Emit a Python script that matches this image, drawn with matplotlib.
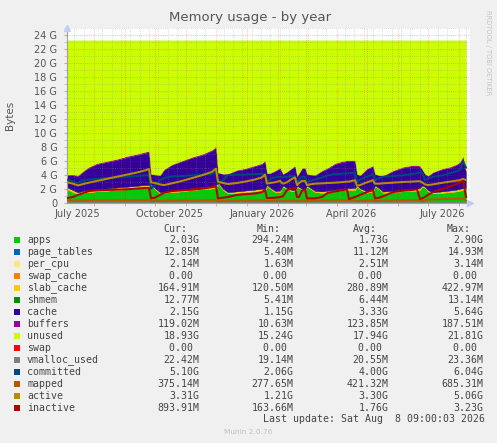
import numpy as np
import pandas as pd
import matplotlib
matplotlib.use("Agg")
import matplotlib.pyplot as plt
from matplotlib.patches import Rectangle

W, H = 497, 443

# time axis: day offsets from the left edge of the graph
start = pd.Timestamp("2025-07-05 12:00")
days = [0, 6, 11, 16, 22, 30, 40, 50, 60, 70, 78, 82,
        84, 88, 93, 97, 105, 115, 125, 135, 145, 149,
        151, 156, 161, 170, 178, 188, 195, 198,
        200, 203, 208, 213,
        216, 220, 225, 228,
        230, 232, 235, 238,
        240, 243, 248, 255, 261, 268, 273, 280, 282, 288,
        290, 293, 300, 306,
        308, 312, 316, 326, 336, 345, 350, 353,
        355, 358, 361, 366, 376, 383, 390, 393, 396, 399]

# values in G
mem_total = 23.3
apps = [2.0, 1.6, 1.3, 1.5, 1.6, 1.7, 1.8, 1.9, 2.0, 2.1, 2.2, 2.2,
        2.6, 2.0, 1.4, 1.5, 1.6, 1.7, 1.9, 2.0, 2.1, 2.2,
        2.9, 1.9, 1.4, 1.5, 1.6, 1.7, 1.8, 1.8,
        2.5, 2.1, 1.6, 1.6,
        2.4, 2.0, 1.7, 1.7,
        2.3, 2.2, 1.9, 1.8,
        2.4, 2.1, 1.6, 1.5, 1.6, 1.7, 1.8, 1.9, 1.9, 1.9,
        2.4, 2.0, 1.5, 1.7,
        2.4, 2.0, 1.5, 1.6, 1.7, 1.8, 1.8, 1.9,
        2.4, 2.2, 1.7, 1.4, 1.5, 1.6, 1.7, 1.8, 1.9, 2.03]
page_tables = [0.012, 0.012, 0.012, 0.012, 0.012, 0.013, 0.013, 0.013, 0.013, 0.014, 0.014, 0.014,
               0.006, 0.008, 0.010, 0.011, 0.012, 0.012, 0.013, 0.013, 0.014, 0.014,
               0.006, 0.008, 0.010, 0.011, 0.012, 0.012, 0.013, 0.013,
               0.006, 0.008, 0.010, 0.011,
               0.006, 0.008, 0.010, 0.011,
               0.006, 0.008, 0.010, 0.011,
               0.006, 0.008, 0.010, 0.011, 0.012, 0.012, 0.013, 0.013, 0.013, 0.013,
               0.006, 0.008, 0.010, 0.011,
               0.006, 0.008, 0.010, 0.011, 0.012, 0.012, 0.013, 0.013,
               0.006, 0.008, 0.010, 0.011, 0.012, 0.012, 0.013, 0.013, 0.014, 0.0125]
per_cpu = [0.0025, 0.0025, 0.0025, 0.0025, 0.0026, 0.0026, 0.0027, 0.0027, 0.0028, 0.0028, 0.0029, 0.003,
           0.0016, 0.002, 0.0022, 0.0023, 0.0024, 0.0025, 0.0026, 0.0027, 0.0028, 0.003,
           0.0016, 0.002, 0.0022, 0.0023, 0.0024, 0.0025, 0.0026, 0.0027,
           0.0016, 0.002, 0.0022, 0.0023,
           0.0016, 0.002, 0.0022, 0.0023,
           0.0016, 0.002, 0.0022, 0.0023,
           0.0016, 0.002, 0.0022, 0.0023, 0.0024, 0.0025, 0.0026, 0.0027, 0.0027, 0.0028,
           0.0016, 0.002, 0.0022, 0.0023,
           0.0016, 0.002, 0.0022, 0.0023, 0.0024, 0.0025, 0.0026, 0.0027,
           0.0016, 0.002, 0.0022, 0.0023, 0.0024, 0.0025, 0.0026, 0.0027, 0.003, 0.0021]
swap_cache = [0.0] * len(days)
slab_cache = [0.30, 0.27, 0.25, 0.27, 0.28, 0.30, 0.32, 0.34, 0.36, 0.38, 0.40, 0.41,
              0.15, 0.16, 0.17, 0.18, 0.20, 0.23, 0.27, 0.31, 0.36, 0.40,
              0.15, 0.16, 0.17, 0.19, 0.21, 0.24, 0.26, 0.27,
              0.15, 0.16, 0.18, 0.20,
              0.15, 0.16, 0.18, 0.19,
              0.15, 0.15, 0.16, 0.17,
              0.15, 0.15, 0.16, 0.18, 0.20, 0.22, 0.24, 0.26, 0.26, 0.28,
              0.15, 0.15, 0.17, 0.19,
              0.15, 0.15, 0.16, 0.19, 0.22, 0.26, 0.27, 0.28,
              0.15, 0.15, 0.16, 0.17, 0.20, 0.22, 0.25, 0.26, 0.27, 0.165]
shmem = [0.006, 0.006, 0.006, 0.006, 0.006, 0.006, 0.007, 0.007, 0.007, 0.008, 0.008, 0.008,
         0.013, 0.006, 0.006, 0.006, 0.006, 0.006, 0.007, 0.007, 0.007, 0.008,
         0.013, 0.006, 0.006, 0.006, 0.006, 0.006, 0.007, 0.007,
         0.012, 0.006, 0.006, 0.006,
         0.012, 0.006, 0.006, 0.006,
         0.012, 0.006, 0.006, 0.006,
         0.012, 0.006, 0.006, 0.006, 0.006, 0.006, 0.007, 0.007, 0.007, 0.007,
         0.012, 0.006, 0.006, 0.006,
         0.012, 0.006, 0.006, 0.006, 0.006, 0.006, 0.007, 0.007,
         0.012, 0.006, 0.006, 0.006, 0.006, 0.006, 0.007, 0.007, 0.008, 0.0125]
cache = [1.66, 2.09, 2.31, 2.69, 3.18, 3.56, 3.74, 3.92, 4.20, 4.38, 4.56, 4.65,
         1.41, 1.90, 2.39, 3.08, 3.66, 4.03, 4.29, 4.55, 5.00, 5.30,
         1.31, 2.10, 2.59, 2.97, 3.05, 3.32, 3.50, 3.89,
         1.61, 2.00, 2.78, 3.16,
         1.61, 2.30, 3.08, 3.37,
         1.41, 1.91, 2.90, 2.99,
         1.61, 1.81, 2.20, 2.88, 3.16, 3.64, 3.72, 3.80, 3.80, 3.78,
         1.61, 1.81, 3.19, 3.37,
         1.61, 1.81, 2.20, 2.77, 3.14, 3.20, 3.19, 2.98,
         2.31, 1.81, 2.00, 2.79, 3.16, 3.24, 3.51, 3.70, 4.39, 2.15]
buffers = [0.12, 0.13, 0.13, 0.14, 0.14, 0.15, 0.15, 0.16, 0.16, 0.17, 0.17, 0.18,
           0.02, 0.04, 0.06, 0.08, 0.10, 0.12, 0.14, 0.15, 0.17, 0.18,
           0.02, 0.05, 0.08, 0.10, 0.12, 0.14, 0.15, 0.16,
           0.02, 0.05, 0.09, 0.11,
           0.03, 0.07, 0.10, 0.12,
           0.02, 0.05, 0.09, 0.11,
           0.02, 0.05, 0.09, 0.12, 0.14, 0.15, 0.16, 0.17, 0.17, 0.18,
           0.02, 0.06, 0.11, 0.13,
           0.02, 0.05, 0.08, 0.12, 0.14, 0.16, 0.17, 0.17,
           0.02, 0.04, 0.07, 0.10, 0.13, 0.14, 0.15, 0.16, 0.17, 0.119]
swap = [0.0] * len(days)

vmalloc_used = [0.020, 0.020, 0.020, 0.020, 0.021, 0.021, 0.021, 0.021, 0.022, 0.022, 0.022, 0.023,
                0.019, 0.020, 0.020, 0.020, 0.021, 0.021, 0.021, 0.022, 0.022, 0.023,
                0.019, 0.020, 0.020, 0.020, 0.021, 0.021, 0.021, 0.022,
                0.019, 0.020, 0.020, 0.020,
                0.019, 0.020, 0.020, 0.020,
                0.019, 0.020, 0.020, 0.020,
                0.019, 0.020, 0.020, 0.020, 0.021, 0.021, 0.021, 0.022, 0.022, 0.022,
                0.019, 0.020, 0.020, 0.020,
                0.019, 0.020, 0.020, 0.020, 0.021, 0.021, 0.021, 0.022,
                0.019, 0.020, 0.020, 0.020, 0.021, 0.021, 0.021, 0.022, 0.022, 0.022]
committed = [3.4, 3.1, 2.9, 3.3, 3.4, 3.5, 3.6, 3.7, 3.8, 3.9, 4.0, 4.0,
             2.1, 2.6, 3.3, 3.6, 3.85, 3.9, 4.0, 4.1, 4.2, 4.5,
             2.8, 3.3, 4.0, 4.1, 4.1, 4.2, 4.2, 4.2,
             3.0, 3.5, 3.7, 3.8,
             3.7, 3.8, 3.9, 3.9,
             2.8, 3.4, 3.8, 3.8,
             3.0, 3.2, 3.4, 3.7, 4.0, 4.2, 4.2, 4.3, 4.3, 4.4,
             3.0, 3.4, 3.8, 4.2,
             3.3, 3.6, 3.8, 3.9, 4.0, 4.2, 4.3, 4.4,
             4.4, 3.3, 3.5, 3.8, 4.0, 4.3, 4.6, 4.8, 6.0, 5.1]
mapped = [0.42, 0.41, 0.40, 0.40, 0.40, 0.41, 0.41, 0.42, 0.42, 0.43, 0.43, 0.44,
          0.30, 0.33, 0.36, 0.38, 0.39, 0.40, 0.40, 0.41, 0.42, 0.43,
          0.30, 0.34, 0.37, 0.38, 0.39, 0.40, 0.41, 0.41,
          0.30, 0.34, 0.37, 0.38,
          0.31, 0.35, 0.37, 0.38,
          0.30, 0.34, 0.37, 0.38,
          0.30, 0.33, 0.36, 0.38, 0.40, 0.41, 0.41, 0.42, 0.42, 0.43,
          0.30, 0.35, 0.38, 0.40,
          0.30, 0.34, 0.37, 0.40, 0.42, 0.43, 0.44, 0.44,
          0.30, 0.45, 0.52, 0.56, 0.60, 0.62, 0.64, 0.66, 0.68, 0.375]
active = [3.0, 2.8, 2.55, 2.75, 2.95, 3.2, 3.5, 3.8, 4.1, 4.4, 4.7, 4.9,
          3.0, 2.9, 2.7, 2.6, 2.85, 3.2, 3.6, 4.0, 4.5, 4.95,
          3.1, 2.9, 2.75, 2.9, 3.1, 3.4, 3.7, 4.1,
          2.8, 2.9, 3.0, 3.2,
          2.8, 3.0, 3.5, 3.7,
          2.6, 2.9, 3.2, 3.2,
          2.6, 2.7, 2.8, 2.85, 2.9, 2.95, 3.0, 3.1, 3.1, 3.3,
          2.5, 2.6, 3.0, 3.3,
          2.8, 2.8, 2.85, 2.95, 3.05, 3.1, 3.15, 3.15,
          3.0, 2.7, 2.6, 2.7, 2.95, 3.1, 3.25, 3.3, 3.5, 3.31]
inactive = [0.75, 0.9, 1.2, 1.45, 1.75, 1.85, 1.9, 1.95, 2.0, 2.1, 2.2, 2.2,
            0.7, 0.8, 1.2, 1.5, 1.75, 1.85, 1.95, 2.1, 2.3, 2.4,
            0.7, 0.8, 0.9, 1.2, 1.3, 1.4, 1.6, 1.9,
            0.75, 0.75, 0.8, 0.9,
            1.0, 1.9, 2.1, 2.2,
            0.9, 0.9, 1.8, 2.0,
            0.7, 0.7, 0.7, 0.9, 1.5, 1.7, 1.8, 2.0, 0.6, 0.9,
            1.0, 1.2, 1.6, 1.9,
            0.7, 0.8, 1.0, 1.6, 1.8, 1.9, 2.0, 0.6,
            0.7, 0.9, 1.2, 1.6, 2.1, 2.4, 2.8, 3.0, 3.2, 0.89]

# legend table
names = ["apps", "page_tables", "per_cpu", "swap_cache", "slab_cache", "shmem", "cache",
         "buffers", "unused", "swap", "vmalloc_used", "committed", "mapped", "active", "inactive"]
colors = ["#00CC00", "#0066B3", "#FFE680", "#FF8000", "#FFCC00", "#008F00", "#330099",
          "#990099", "#CCFF00", "#FF0000", "#808080", "#00487D", "#B35A00", "#B38F00", "#B30000"]
cur = ["2.03G", "12.85M", "2.14M", "0.00 ", "164.91M", "12.77M", "2.15G", "119.02M",
       "18.93G", "0.00 ", "22.42M", "5.10G", "375.14M", "3.31G", "893.91M"]
mins = ["294.24M", "5.40M", "1.63M", "0.00 ", "120.50M", "5.41M", "1.15G", "10.63M",
        "15.24G", "0.00 ", "19.14M", "2.06G", "277.65M", "1.21G", "163.66M"]
avgs = ["1.73G", "11.12M", "2.51M", "0.00 ", "280.89M", "6.44M", "3.33G", "123.85M",
        "17.94G", "0.00 ", "20.55M", "4.00G", "421.32M", "3.30G", "1.76G"]
maxs = ["2.90G", "14.93M", "3.14M", "0.00 ", "422.97M", "13.14M", "5.64G", "187.51M",
        "21.81G", "0.00 ", "23.36M", "6.04G", "685.31M", "5.06G", "3.23G"]

x = np.array(days, dtype=float)
fig = plt.figure(figsize=(W / 100, H / 100), dpi=100, facecolor="#F0F0F0")
ax = fig.add_axes([67 / W, 1 - 203.3 / H, 403 / W, 175.7 / H])
ax.set_facecolor("white")
ax.set_xlim(0, 403)
ax.set_ylim(0, 25.1)

stack = [apps, page_tables, per_cpu, swap_cache, slab_cache, shmem, cache, buffers]
ax.stackplot(x, *stack, colors=colors[:8], edgecolor="face", linewidth=0.2, zorder=1)
used = np.sum(np.array(stack), axis=0)
ax.fill_between(x, used, mem_total, color=colors[8], edgecolor="face", linewidth=0.2, zorder=1)
ax.fill_between(x, mem_total, mem_total + np.array(swap), color=colors[9], linewidth=0, zorder=1)

# grid (rrdtool style dotted lines, drawn over the areas)
dot = (0, (1, 1.6))
grid_minor = dict(color="#8C8C8C", alpha=0.45, lw=0.6, ls=dot, zorder=2)
grid_major = dict(color="#FF0000", alpha=0.35, lw=0.6, ls=dot, zorder=2)
for g in range(1, 26):
    ax.axhline(g, **(grid_major if g % 2 == 0 else grid_minor))
month_starts = pd.date_range("2025-08-01", "2026-08-01", freq="MS")
month_pos = [(m - start).total_seconds() / 86400 for m in month_starts]
for p in np.arange(7.3, 403, 9.33):
    if min(abs(p - m) for m in month_pos) > 2:
        ax.axvline(p, **grid_minor)
for p in month_pos:
    ax.axvline(p, **grid_major)

lw = 1.45
ax.plot(x, vmalloc_used, color=colors[10], lw=lw, zorder=3)
ax.plot(x, committed, color=colors[11], lw=lw, zorder=3)
ax.plot(x, mapped, color=colors[12], lw=lw, zorder=3)
ax.plot(x, active, color=colors[13], lw=lw, zorder=3)
ax.plot(x, inactive, color=colors[14], lw=lw, zorder=3)

# axes
for s in ["top", "right"]:
    ax.spines[s].set_visible(False)
for s in ["left", "bottom"]:
    ax.spines[s].set_color("#A0A0A0")
    ax.spines[s].set_linewidth(0.8)
ax.plot([403], [0], marker=">", ms=5, color="#C4CCF4", clip_on=False, zorder=5)
ax.plot([0], [25.1], marker="^", ms=5, color="#C4CCF4", clip_on=False, zorder=5)

label_months = pd.to_datetime(["2025-07-16", "2025-10-16", "2026-01-16", "2026-04-16", "2026-07-16"])
label_pos = [(m - start).total_seconds() / 86400 for m in label_months]
ax.set_xticks(label_pos, [m.strftime("%B %Y") for m in label_months])
ax.set_xticks(month_pos, minor=True)
ax.tick_params(axis="x", which="major", length=0, pad=4, labelsize=7, labelcolor="#555555")
ax.tick_params(axis="x", which="minor", length=2, color="#E59A9A")

yt = list(range(0, 25, 2))
ax.set_yticks(yt, ["0" if v == 0 else f"{v} G" for v in yt])
ax.set_yticks(range(1, 26, 2), minor=True)
ax.tick_params(axis="y", which="major", length=2, color="#E59A9A", pad=5,
               labelsize=7, labelcolor="#555555")
ax.tick_params(axis="y", which="minor", length=2, color="#BDBDBD")

fig.text(250.5 / W, 1 - 18 / H, "Memory usage - by year", ha="center", va="center",
         fontsize=9.5, color="#555555")
fig.text(10 / W, 1 - 115 / H, "Bytes", rotation=90, ha="center", va="center",
         fontsize=7.5, color="#555555")
fig.text(488 / W, 1 - 53 / H, "RRDTOOL / TOBI OETIKER", rotation=270, ha="center",
         va="center", fontsize=4.8, color="#C4C4C4")

# legend table
mono = "DejaVu Sans Mono"
fs = 7.1
cw = 0.602 * fs * 100 / 72
tcol = "#444444"


def put(xpx, ypx, s):
    fig.text(xpx / W, 1 - ypx / H, s, fontfamily=mono, fontsize=fs, color=tcol,
             ha="left", va="center")


def put_right(xr, ypx, s):
    put(xr - len(s) * cw, ypx, s)


put(163, 228.5, "Cur:")
put(257, 228.5, "Min:")
put(353, 228.5, "Avg:")
put(447, 228.5, "Max:")
for i, n in enumerate(names):
    y = 240 + 12 * i
    fig.add_artist(Rectangle((14 / W, 1 - (y + 3) / H), 6 / W, 6 / H,
                             transform=fig.transFigure, color=colors[i], lw=0))
    put(27, y, n)
    put_right(199, y, cur[i])
    put_right(293, y, mins[i])
    put_right(388, y, avgs[i])
    put_right(483, y, maxs[i])
put_right(483, 419.5, "Last update: Sat Aug  8 09:00:03 2026")
fig.text(248 / W, 1 - 432 / H, "Munin 2.0.76", ha="center", va="center",
         fontsize=5.3, color="#C0C0C0")

fig.savefig("out.png", dpi=100, facecolor=fig.get_facecolor())
